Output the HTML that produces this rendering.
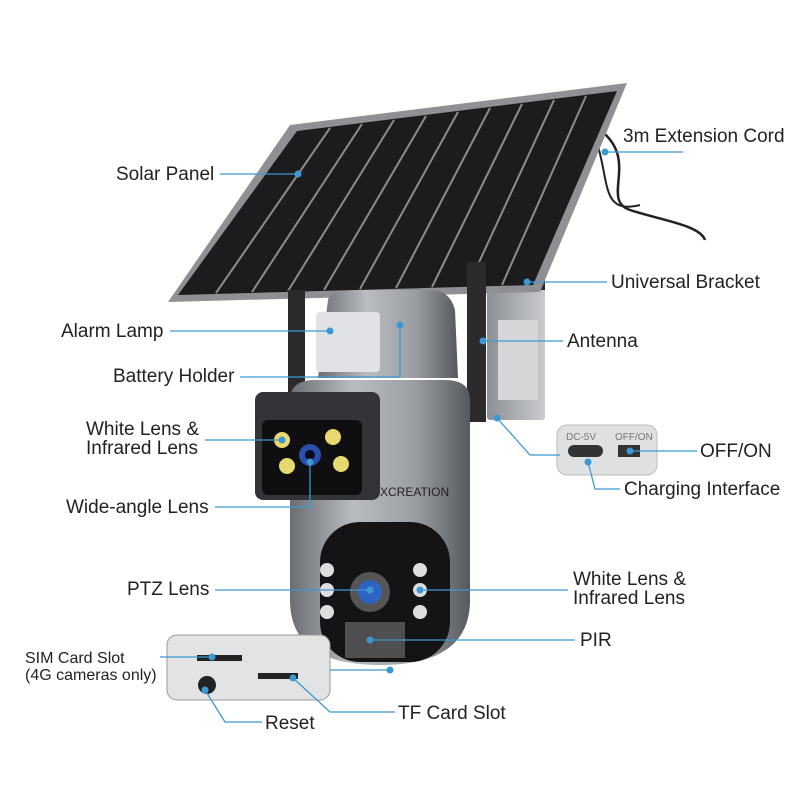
<!DOCTYPE html>
<html><head><meta charset="utf-8"><style>
html,body{margin:0;padding:0;background:#fff;}
svg{display:block}
text{font-family:"Liberation Sans",sans-serif;font-size:19px;fill:#222}
</style></head><body>
<svg width="800" height="800" viewBox="0 0 800 800" xmlns="http://www.w3.org/2000/svg">
<defs>
<linearGradient id="body" x1="0" x2="1" y1="0" y2="0">
<stop offset="0" stop-color="#6a6d72"/><stop offset="0.35" stop-color="#b9bcc0"/><stop offset="0.7" stop-color="#9a9da2"/><stop offset="1" stop-color="#55585c"/></linearGradient>
<linearGradient id="brk" x1="0" x2="1"><stop offset="0" stop-color="#8c8f93"/><stop offset="1" stop-color="#c9cbce"/></linearGradient>
</defs>
<path d="M600 130 C640 160 600 200 630 210 C660 220 700 225 705 240" stroke="#222" stroke-width="2.5" fill="none"/>
<path d="M596 140 C610 180 600 215 640 205" stroke="#222" stroke-width="2" fill="none"/>
<rect x="487" y="265" width="58" height="155" fill="url(#brk)" rx="3"/>
<rect x="487" y="262" width="58" height="28" fill="#2a2a2a"/>
<rect x="498" y="320" width="40" height="80" fill="#d4d6d8"/>
<polygon points="290,125 627,83 540,292 168,302" fill="#8e9093"/>
<polygon points="297,131 617,91 533,285 178,295" fill="#1c1c1e"/>
<g stroke="#8a8c8f" stroke-width="2">
<line x1="330" y1="128" x2="216" y2="293"/><line x1="362" y1="124" x2="252" y2="292"/>
<line x1="394" y1="120" x2="288" y2="291"/><line x1="426" y1="116" x2="324" y2="290"/>
<line x1="458" y1="112" x2="360" y2="289"/><line x1="490" y1="108" x2="396" y2="288"/>
<line x1="522" y1="104" x2="432" y2="287"/><line x1="554" y1="100" x2="468" y2="286"/>
<line x1="586" y1="96" x2="502" y2="285"/>
</g>
<rect x="288" y="290" width="17" height="112" fill="#2b2b2d"/>
<rect x="467" y="262" width="19" height="160" fill="#2b2b2d"/>
<path d="M328 300 Q330 290 360 290 L430 290 Q450 290 455 310 L458 378 L318 378 Z" fill="url(#body)"/>
<rect x="316" y="312" width="64" height="60" fill="#e0e2e5" rx="4"/>
<path d="M290 400 Q290 380 315 380 L445 380 Q470 380 470 400 L470 505 L290 505 Z" fill="url(#body)"/>
<rect x="255" y="392" width="125" height="108" rx="8" fill="#333438"/>
<rect x="262" y="420" width="100" height="75" rx="6" fill="#0f0f12"/>
<g fill="#e8d870"><circle cx="282" cy="440" r="8"/><circle cx="333" cy="437" r="8"/><circle cx="287" cy="466" r="8"/><circle cx="341" cy="464" r="8"/></g>
<circle cx="310" cy="455" r="11" fill="#2a4fa8"/><circle cx="310" cy="455" r="5" fill="#0a0a20"/>
<text x="380" y="496" style="font-size:12px;fill:#222">XCREATION</text>
<path d="M290 505 L470 505 L470 600 Q470 665 380 665 Q290 665 290 600 Z" fill="url(#body)"/>
<rect x="320" y="522" width="130" height="140" rx="40" fill="#141416"/>
<g fill="#ddd"><circle cx="327" cy="570" r="7"/><circle cx="327" cy="590" r="7"/><circle cx="327" cy="612" r="7"/><circle cx="420" cy="570" r="7"/><circle cx="420" cy="590" r="7"/><circle cx="420" cy="612" r="7"/></g>
<circle cx="370" cy="592" r="20" fill="#555"/><circle cx="370" cy="592" r="12" fill="#2e63c4"/>
<rect x="345" y="622" width="60" height="36" fill="#777" opacity="0.6"/>
<rect x="557" y="425" width="100" height="50" rx="10" fill="#dfe0e2" stroke="#bbb"/>
<rect x="568" y="445" width="35" height="12" rx="6" fill="#333"/>
<rect x="618" y="445" width="22" height="12" fill="#333"/>
<text x="566" y="440" style="font-size:10px;fill:#777">DC-5V</text><text x="615" y="440" style="font-size:10px;fill:#777">OFF/ON</text>
<rect x="167" y="635" width="163" height="65" rx="10" fill="#e2e3e5" stroke="#999"/>
<rect x="197" y="655" width="45" height="6" fill="#222"/>
<rect x="258" y="673" width="40" height="6" fill="#222"/>
<circle cx="207" cy="685" r="9" fill="#222"/>
<g stroke="#3c98d2" stroke-width="1.3" fill="none">
<line x1="220" y1="174" x2="298" y2="174"/>
<line x1="605" y1="152" x2="683" y2="152"/>
<line x1="527" y1="282" x2="607" y2="282"/>
<line x1="170" y1="331" x2="330" y2="331"/>
<line x1="483" y1="341" x2="563" y2="341"/>
<polyline points="240,377 400,377 400,325"/>
<line x1="205" y1="440" x2="282" y2="440"/>
<line x1="630" y1="451" x2="697" y2="451"/>
<polyline points="588,462 595,489 620,489"/>
<polyline points="497,418 530,455 560,455"/>
<polyline points="215,507 310,507 310,462"/>
<line x1="215" y1="590" x2="370" y2="590"/>
<line x1="420" y1="590" x2="568" y2="590"/>
<line x1="370" y1="640" x2="575" y2="640"/>
<line x1="160" y1="657" x2="212" y2="657"/>
<line x1="330" y1="670" x2="390" y2="670"/>
<polyline points="205,690 225,722 262,722"/>
<polyline points="293,678 330,712 395,712"/>
</g>
<g fill="#3c98d2">
<circle cx="298" cy="174" r="3.5"/><circle cx="605" cy="152" r="3.5"/><circle cx="527" cy="282" r="3.5"/>
<circle cx="330" cy="331" r="3.5"/><circle cx="483" cy="341" r="3.5"/><circle cx="400" cy="325" r="3.5"/>
<circle cx="282" cy="440" r="3.5"/><circle cx="630" cy="451" r="3.5"/><circle cx="588" cy="462" r="3.5"/>
<circle cx="497" cy="418" r="3.5"/><circle cx="310" cy="462" r="3.5"/><circle cx="370" cy="590" r="3.5"/>
<circle cx="420" cy="590" r="3.5"/><circle cx="370" cy="640" r="3.5"/><circle cx="212" cy="657" r="3.5"/>
<circle cx="390" cy="670" r="3.5"/><circle cx="205" cy="690" r="3.5"/><circle cx="293" cy="678" r="3.5"/>
</g>
<text x="116" y="180">Solar Panel</text>
<text x="623" y="142">3m Extension Cord</text>
<text x="611" y="288">Universal Bracket</text>
<text x="61" y="337">Alarm Lamp</text>
<text x="567" y="347">Antenna</text>
<text x="113" y="382">Battery Holder</text>
<text x="86" y="435">White Lens &amp;</text>
<text x="86" y="454">Infrared Lens</text>
<text x="700" y="457">OFF/ON</text>
<text x="624" y="495">Charging Interface</text>
<text x="66" y="513">Wide-angle Lens</text>
<text x="127" y="595">PTZ Lens</text>
<text x="573" y="585">White Lens &amp;</text>
<text x="573" y="604">Infrared Lens</text>
<text x="580" y="646">PIR</text>
<text x="25" y="663" style="font-size:16px">SIM Card Slot</text>
<text x="25" y="680" style="font-size:16px">(4G cameras only)</text>
<text x="265" y="729">Reset</text>
<text x="398" y="719">TF Card Slot</text>
</svg>
</body></html>
